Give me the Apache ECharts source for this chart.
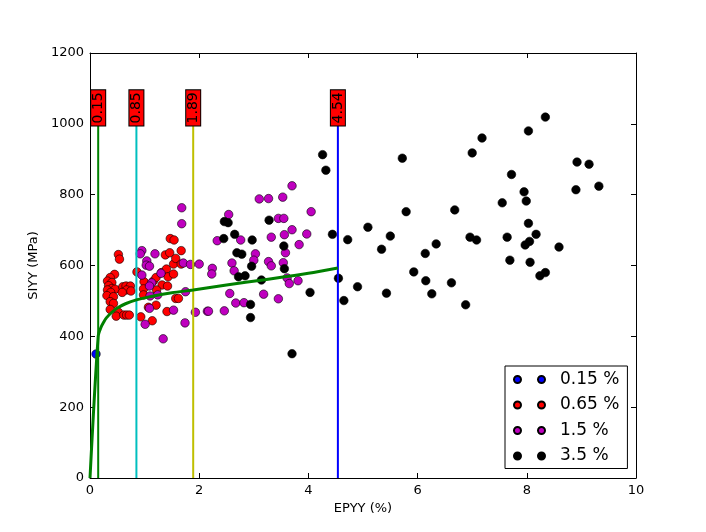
<!DOCTYPE html>
<html><head><meta charset="utf-8">
<script src="https://cdn.jsdelivr.net/npm/echarts@6/dist/echarts.min.js"></script>
<style>html,body{margin:0;padding:0;background:#fff}#c{width:706px;height:532px}</style>
</head><body><div id="c"></div>
<script>
const xAxisName = 'EPYY (%)';
const yAxisName = 'SIYY (MPa)';
const seriesNames = ['0.15 %', '0.65 %', '1.5 %', '3.5 %'];

const blue015 = [[0.11, 350]];
const red065 = [
  [0.52,631],[0.54,618],[0.45,575],[0.37,566],[0.32,556],[0.40,552],[0.34,543],[0.40,535],[0.32,531],[0.46,533],
  [0.60,540],[0.66,542],[0.74,542],[0.67,531],[0.59,524],[0.75,528],[0.38,524],[0.31,515],[0.43,512],[0.37,498],
  [0.43,493],[0.37,476],[0.52,468],[0.48,457],[0.62,460],[0.67,460],[0.72,460],[0.86,582],[0.99,554],[0.98,534],
  [0.98,517],[0.93,455],[1.07,482],[1.14,444],[1.16,556],[1.21,488],[1.31,580],[1.32,545],[1.38,630],[1.40,590],
  [1.41,470],[1.42,542],[1.43,568],[1.46,636],[1.47,676],[1.53,576],[1.53,604],[1.54,672],[1.57,620],[1.57,507],
  [1.62,507],[1.67,642],[1.67,604],[1.21,566],[1.22,531]
];
const mag15 = [
  [1.68,763],[1.68,718],[0.95,642],[0.92,633],[1.19,633],[1.04,613],[1.03,601],[1.09,598],[1.71,607],[1.84,603],
  [2.00,604],[0.95,573],[1.30,578],[1.13,551],[1.09,542],[1.24,517],[1.10,514],[1.75,526],[1.09,479],[1.53,474],
  [1.93,468],[2.15,471],[1.01,434],[1.74,438],[1.34,393],
  [3.70,825],[3.10,788],[3.27,789],[3.53,793],[2.54,744],[4.05,752],[3.45,733],[3.55,733],[3.70,701],[2.33,670],
  [2.76,672],[3.32,680],[3.56,687],[3.97,689],[3.83,659],[3.58,636],[3.03,633],[3.00,615],[2.60,607],[3.27,611],
  [3.32,599],[3.54,608],[2.24,592],[2.23,576],[2.64,585],[3.61,565],[3.65,549],[3.81,557],[2.56,521],[3.18,519],
  [2.67,494],[2.82,495],[3.45,506],[2.17,471],[2.46,472]
];
const black35 = [
  [4.26,913],[4.32,869],[4.44,688],[4.72,673],[5.09,708],[5.50,683],[5.34,646],[5.72,903],[5.79,752],[6.68,757],
  [7.18,960],[7.00,918],[6.96,680],[7.08,672],[6.34,661],[6.14,634],[5.93,582],[6.15,557],[6.62,551],[6.26,520],
  [6.88,489],[4.55,564],[4.90,540],[5.43,522],[4.65,501],[4.03,524],
  [8.03,980],[8.34,1019],[7.72,857],[8.92,892],[9.14,886],[8.90,814],[9.32,824],[7.95,808],[7.55,777],[7.99,782],
  [8.03,719],[7.64,680],[8.17,688],[7.97,658],[8.05,668],[8.59,652],[7.69,615],[8.06,609],[8.24,571],[8.34,580],
  [2.46,724],[2.53,721],[3.28,728],[2.45,676],[2.65,688],[2.97,672],[3.55,655],[2.69,636],[2.78,632],[2.96,598],
  [3.56,591],[2.72,568],[2.84,571],[3.14,559],[2.94,490],[2.94,453],[3.70,351]
];
const curveX = [0, 0.15, 0.2, 0.25, 0.3, 0.4, 0.5, 0.65, 0.85, 1.1, 1.5, 1.89, 2.5, 3.2, 4.0, 4.54];
const curveY = [0, 400, 425, 440, 452, 468, 480, 492, 503, 512, 523, 531, 545, 560, 578, 593];
const cutX = [0.15, 0.85, 1.89, 4.54];
const cutLabels = ['0.15', '0.85', '1.89', '4.54'];
const cutTop = 1000;
const labelY = 1045;

const cutColors = ['#008000', '#00bfbf', '#bfbf00', '#0000ff'];
const font = 'DejaVu Sans';

const chart = echarts.init(document.getElementById('c'), null, {renderer: 'canvas'});

function scatter(name, data, color, border) {
  return {
    name, type: 'scatter', data, symbolSize: 8.5, z: 2,
    itemStyle: {color, borderColor: '#000', borderWidth: border, opacity: 1}
  };
}

const series = [
  scatter(seriesNames[0], blue015, '#0000ff', 0.6),
  scatter(seriesNames[1], red065, '#ff0000', 0.6),
  scatter(seriesNames[2], mag15, '#bf00bf', 0.6),
  scatter(seriesNames[3], black35, '#000000', 0.6)
];
cutX.forEach((x, i) => {
  series.push({
    type: 'line', data: [[x, 0], [x, cutTop]], symbol: 'none', z: 3,
    lineStyle: {color: cutColors[i], width: 2}, silent: true
  });
  series.push({
    type: 'scatter', data: [[x, labelY]], symbolSize: 0, z: 5, silent: true,
    itemStyle: {color: '#ff0000', opacity: 1},
    label: {
      show: true, position: 'inside', rotate: 90, formatter: cutLabels[i], opacity: 1,
      fontFamily: font, fontSize: 14, color: '#000',
      backgroundColor: '#ff0000', borderColor: '#000', borderWidth: 1, padding: [0, 2, 0, 2]
    }
  });
});
series.push({
  type: 'line', data: curveX.map((x, i) => [x, curveY[i]]), symbol: 'none', z: 4, smooth: 0.3,
  lineStyle: {color: '#008000', width: 3}, silent: true
});

const axisCommon = {
  axisLine: {show: true, onZero: false, lineStyle: {color: '#000', width: 1}},
  axisTick: {show: true, inside: true, length: 5, lineStyle: {color: '#000'}},
  splitLine: {show: false}
};
const plain = v => String(v);

chart.setOption({
  animation: false,
  backgroundColor: '#fff',
  grid: {left: 90, right: 70, top: 53, bottom: 54},
  xAxis: [
    Object.assign({type: 'value', min: 0, max: 10, interval: 2, position: 'bottom',
      name: xAxisName, nameLocation: 'middle', nameGap: 24,
      nameTextStyle: {fontFamily: font, fontSize: 13, color: '#000'},
      axisLabel: {fontFamily: font, fontSize: 13, color: '#000', margin: 6, formatter: plain}}, axisCommon),
    Object.assign({type: 'value', min: 0, max: 10, interval: 2, position: 'top',
      axisLabel: {show: false}}, axisCommon)
  ],
  yAxis: [
    Object.assign({type: 'value', min: 0, max: 1200, interval: 200, position: 'left',
      name: yAxisName, nameLocation: 'middle', nameGap: 46, nameRotate: 90,
      nameTextStyle: {fontFamily: font, fontSize: 13, color: '#000'},
      axisLabel: {fontFamily: font, fontSize: 13, color: '#000', margin: 6, formatter: plain}}, axisCommon),
    Object.assign({type: 'value', min: 0, max: 1200, interval: 200, position: 'right',
      axisLabel: {show: false}}, axisCommon)
  ],
  legend: {
    data: seriesNames, orient: 'vertical', left: 505, top: 366,
    icon: 'path://M0,3.5a3.5,3.5 0 1,0 7,0a3.5,3.5 0 1,0 -7,0M24,3.5a3.5,3.5 0 1,0 7,0a3.5,3.5 0 1,0 -7,0',
    itemWidth: 31, itemHeight: 7, itemGap: 8.5,
    textStyle: {fontFamily: font, fontSize: 17, color: '#000', padding: [0, 0, 0, 10]},
    borderColor: '#000', borderWidth: 1, backgroundColor: '#fff', borderRadius: 0,
    padding: [5, 8, 4, 8], selectedMode: false
  },
  series
});
</script>
</body></html>
